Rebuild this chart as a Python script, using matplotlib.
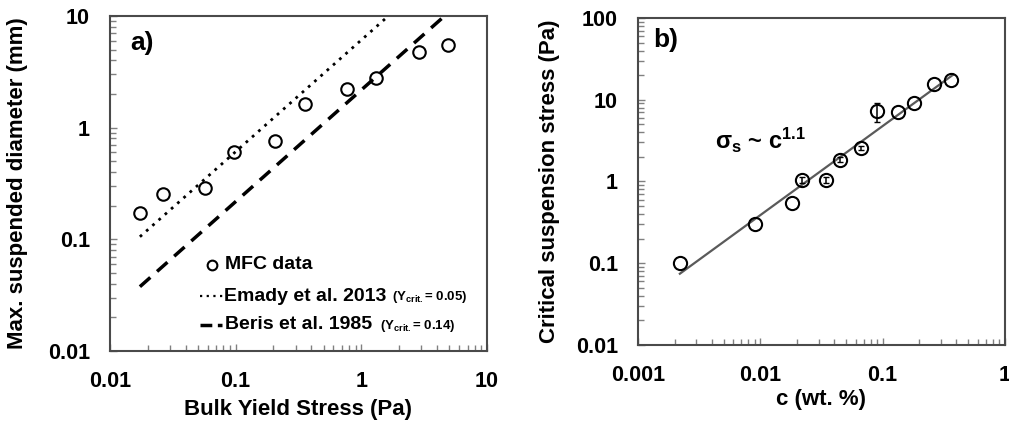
import numpy as np
import matplotlib
matplotlib.use("Agg")
import matplotlib.pyplot as plt
from matplotlib.ticker import LogLocator, FixedLocator, NullFormatter

plt.rcParams["font.family"] = ["Liberation Sans", "DejaVu Sans"]
plt.rcParams["font.weight"] = "bold"
plt.rcParams["axes.labelweight"] = "bold"
plt.rcParams["mathtext.fontset"] = "custom"
plt.rcParams["mathtext.rm"] = "Liberation Sans:bold"
plt.rcParams["mathtext.bf"] = "Liberation Sans:bold"
plt.rcParams["mathtext.it"] = "Liberation Sans:bold"

# (a) maximum suspended particle diameter vs bulk yield stress
yield_stress = [0.0173, 0.0263, 0.0565, 0.097, 0.207, 0.358, 0.77, 1.32, 2.86, 4.9]
max_diameter = [0.171, 0.253, 0.29, 0.60, 0.765, 1.62, 2.2, 2.8, 4.8, 5.5]

# Yield-stress model: d = tau_y / (Y_crit * delta_rho * g), delta_rho*g in Pa/mm
delta_rho_g = 3.28
y_crit_emady = 0.05
y_crit_beris = 0.14
model_stress = [0.0173, 10.0]

# (b) critical suspension stress vs concentration
conc = [0.0022, 0.009, 0.018, 0.0219, 0.0343, 0.045, 0.067, 0.0906, 0.133, 0.181, 0.265, 0.36]
crit_stress = [0.1, 0.30, 0.54, 1.05, 1.05, 1.85, 2.57, 7.3, 7.0, 9.0, 15.6, 17.5]
crit_err_lo = [0, 0, 0, 0.09, 0.09, 0.12, 0.17, 2.0, 0, 0, 0, 0]
crit_err_hi = [0, 0, 0, 0.09, 0.09, 0.12, 0.17, 1.9, 0, 0, 0, 0]
fit_range = [0.0022, 0.38]

fig = plt.figure(figsize=(10.09, 4.21), dpi=100)
ax1 = fig.add_axes([110 / 1009, 1 - 351 / 421, 377 / 1009, 335 / 421])
ax2 = fig.add_axes([638 / 1009, 1 - 345 / 421, 367 / 1009, 327 / 421])

tick_grey = "#808080"


def style_log_axes(ax):
    ax.set_xscale("log")
    ax.set_yscale("log")
    for sp in ax.spines.values():
        sp.set_linewidth(1.5)
        sp.set_color("#4a4a4a")
    ax.tick_params(which="both", direction="in", top=False, right=False,
                   color=tick_grey, width=1.0)
    ax.tick_params(which="major", length=5, labelsize=15.5, pad=14.5)
    ax.tick_params(which="minor", length=4)
    ax.xaxis.set_minor_locator(LogLocator(base=10, subs=np.arange(2, 10)))
    ax.yaxis.set_minor_locator(LogLocator(base=10, subs=np.arange(2, 10)))
    ax.xaxis.set_minor_formatter(NullFormatter())
    ax.yaxis.set_minor_formatter(NullFormatter())


# ---- panel a ----
style_log_axes(ax1)
ax1.set_xlim(0.01, 10)
ax1.set_ylim(0.01, 10)
ax1.xaxis.set_major_locator(FixedLocator([0.01, 0.1, 1, 10]))
ax1.yaxis.set_major_locator(FixedLocator([0.01, 0.1, 1, 10]))
ax1.set_xticklabels(["0.01", "0.1", "1", "10"])
ax1.set_yticklabels(["0.01", "0.1", "1", "10"])

ms = np.array(model_stress)
ax1.plot(ms, ms / (y_crit_emady * delta_rho_g), color="black", lw=2.0,
         linestyle=(0, (1, 2)), zorder=2)
ax1.plot(ms, ms / (y_crit_beris * delta_rho_g), color="black", lw=2.5,
         linestyle=(0, (4, 2.6)), zorder=2)
ax1.plot(yield_stress, max_diameter, linestyle="none", marker="o",
         markersize=9, markerfacecolor="none", markeredgecolor="black",
         markeredgewidth=1.5, zorder=3)

ax1.set_xlabel("Bulk Yield Stress (Pa)", fontsize=16, labelpad=5)
ax1.set_ylabel("Max. suspended diameter (mm)", fontsize=16, labelpad=14)
ax1.text(0.053, 0.955, "a)", transform=ax1.transAxes, fontsize=19,
         ha="left", va="top")

# legend, drawn in axes coordinates
tr = ax1.transAxes
ax1.plot([0.271], [0.257], transform=tr, linestyle="none", marker="o",
         markersize=7, markerfacecolor="none", markeredgecolor="black",
         markeredgewidth=1.5, clip_on=False)
ax1.text(0.305, 0.257, "MFC data", transform=tr, fontsize=14,
         ha="left", va="center")
ax1.plot([0.239, 0.300], [0.164, 0.164], transform=tr, color="black",
         lw=1.6, linestyle=(0, (1, 2)))
t1 = ax1.text(0.302, 0.164, "Emady et al. 2013", transform=tr, fontsize=14,
              ha="left", va="center")
ax1.plot([0.239, 0.296], [0.078, 0.078], transform=tr, color="black",
         lw=2.5, linestyle=(0, (3.4, 1.6)))
t2 = ax1.text(0.305, 0.078, "Beris et al. 1985", transform=tr, fontsize=14,
              ha="left", va="center")
ax1.annotate(r"(Y$_{\mathbf{crit.}}$= %.2f)" % y_crit_emady, xy=(1, 0.5),
             xycoords=t1, xytext=(4, -1), textcoords="offset points",
             fontsize=9.5, ha="left", va="center")
ax1.annotate(r"(Y$_{\mathbf{crit.}}$= %.2f)" % y_crit_beris, xy=(1, 0.5),
             xycoords=t2, xytext=(6, -1), textcoords="offset points",
             fontsize=9.5, ha="left", va="center")

# ---- panel b ----
style_log_axes(ax2)
ax2.set_xlim(0.001, 1)
ax2.set_ylim(0.01, 100)
ax2.xaxis.set_major_locator(FixedLocator([0.001, 0.01, 0.1, 1]))
ax2.yaxis.set_major_locator(FixedLocator([0.01, 0.1, 1, 10, 100]))
ax2.set_xticklabels(["0.001", "0.01", "0.1", "1"])
ax2.set_yticklabels(["0.01", "0.1", "1", "10", "100"])

# power-law fit through the data
slope, icpt = np.polyfit(np.log10(conc), np.log10(crit_stress), 1)
fx = np.array(fit_range)
ax2.plot(fx, 10 ** icpt * fx ** slope, color="#5a5a5a", lw=1.6, zorder=2)
ax2.plot(conc, crit_stress, linestyle="none", marker="o", markersize=9.5,
         markerfacecolor="none", markeredgecolor="black",
         markeredgewidth=1.5, zorder=3)

# error bars only where a spread was measured
c_arr = np.array(conc)
s_arr = np.array(crit_stress)
lo = np.array(crit_err_lo)
hi = np.array(crit_err_hi)
has_err = (lo > 0) | (hi > 0)
ax2.errorbar(c_arr[has_err], s_arr[has_err],
             yerr=[lo[has_err], hi[has_err]], linestyle="none",
             ecolor="black", elinewidth=1.1, capsize=2.5, capthick=1.0,
             zorder=3)

ax2.set_xlabel("c (wt. %)", fontsize=16, labelpad=2)
ax2.set_ylabel("Critical suspension stress (Pa)", fontsize=16, labelpad=11)
ax2.text(0.041, 0.97, "b)", transform=ax2.transAxes, fontsize=19,
         ha="left", va="top")
ax2.text(0.21, 0.625, r"$\mathbf{\sigma_s}$ ~ c$^{\mathbf{1.1}}$",
         transform=ax2.transAxes, fontsize=17, ha="left", va="center")

fig.savefig("out.png", dpi=100)
